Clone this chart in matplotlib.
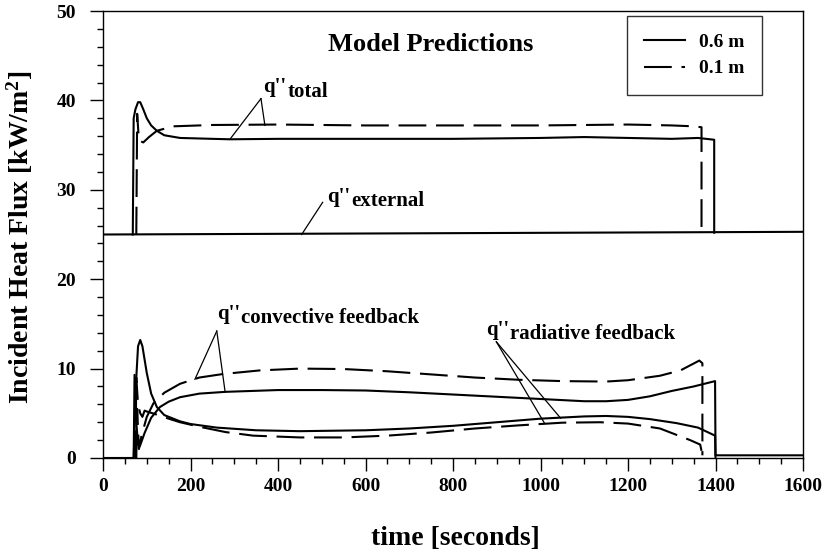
import matplotlib.pyplot as plt
from matplotlib.ticker import MultipleLocator

plt.rcParams['font.family'] = ['Liberation Serif', 'DejaVu Serif']
plt.rcParams['font.weight'] = 'bold'
plt.rcParams['mathtext.fontset'] = 'custom'
plt.rcParams['mathtext.rm'] = 'Liberation Serif:bold'
plt.rcParams['mathtext.default'] = 'rm'
plt.rcParams['lines.scale_dashes'] = False

# values: time [s], flux [kW/m2]
t_ext = [0, 1600]
q_ext = [25.0, 25.3]

t_tot_06 = [68, 70, 74, 80, 85, 92, 100, 110, 123, 140, 176, 250, 290, 400, 600, 800,
            1000, 1100, 1200, 1300, 1360, 1397, 1397]
q_tot_06 = [25.0, 38.0, 39.0, 39.8, 39.8, 39.0, 38.0, 37.2, 36.6, 36.1, 35.8, 35.7, 35.65,
            35.7, 35.7, 35.7, 35.8, 35.9, 35.8, 35.7, 35.8, 35.6, 25.2]

t_tot_01 = [76, 78, 82, 92, 105, 123, 160, 250, 400, 600, 800, 1000, 1200, 1300, 1350,
            1368, 1368]
q_tot_01 = [25.0, 38.5, 35.5, 35.3, 35.9, 36.6, 37.1, 37.25, 37.3, 37.2, 37.2, 37.2, 37.3,
            37.2, 37.1, 37.0, 25.2]

t_conv_06 = [0, 70, 72, 76, 80, 84, 95, 110, 130, 150, 176, 220, 280, 400, 500, 600, 700,
             800, 900, 1000, 1100, 1150, 1200, 1250, 1300, 1350, 1399, 1400, 1600]
q_conv_06 = [0, 0, 9.3, 4.0, 1.5, 1.3, 2.8, 4.5, 5.7, 6.3, 6.8, 7.2, 7.4, 7.6, 7.6, 7.55,
             7.35, 7.1, 6.85, 6.6, 6.35, 6.35, 6.5, 6.9, 7.5, 8.0, 8.6, 0.3, 0.3]

t_conv_01 = [76, 78, 82, 88, 100, 115, 140, 176, 220, 275, 359, 450, 550, 650, 750, 850,
             950, 1050, 1150, 1200, 1273, 1320, 1363, 1370, 1370]
q_conv_01 = [0, 5.5, 1.0, 2.5, 4.6, 6.1, 7.3, 8.3, 9.0, 9.4, 9.8, 10.0, 9.95, 9.7, 9.35,
             9.0, 8.75, 8.6, 8.55, 8.7, 9.2, 9.8, 10.9, 10.6, 0.3]

t_rad_06 = [70, 72, 76, 80, 85, 90, 100, 110, 123, 140, 176, 200, 260, 350, 450, 600, 700,
            800, 900, 1000, 1100, 1150, 1200, 1250, 1311, 1360, 1399, 1400]
q_rad_06 = [0, 3.0, 9.0, 12.5, 13.2, 12.5, 9.5, 7.2, 5.7, 4.8, 4.1, 3.8, 3.4, 3.1, 3.0,
            3.1, 3.3, 3.6, 4.0, 4.4, 4.65, 4.7, 4.6, 4.35, 3.9, 3.4, 2.5, 0]

t_rad_01 = [74, 76, 80, 85, 90, 95, 100, 120, 150, 176, 220, 280, 343, 450, 550, 650, 750,
            850, 950, 1050, 1136, 1200, 1273, 1342, 1365, 1368]
q_rad_01 = [0, 9.0, 6.0, 5.0, 4.6, 5.3, 5.2, 4.9, 4.4, 4.0, 3.5, 2.9, 2.5, 2.3, 2.3, 2.5,
            2.85, 3.3, 3.65, 3.95, 4.0, 3.85, 3.3, 2.0, 1.5, 0.8]

fig = plt.figure(figsize=(8.33, 5.53), dpi=100)
ax = fig.add_axes([0.1237, 0.1718, 0.8403, 0.8083])

dash = (0, (20, 7))
lw = 1.5
ax.plot(t_ext, q_ext, color='black', lw=lw)
ax.plot(t_tot_06, q_tot_06, color='black', lw=lw, label='0.6 m')
ax.plot(t_tot_01, q_tot_01, color='black', lw=lw, ls=dash, label='0.1 m')
ax.plot(t_conv_06, q_conv_06, color='black', lw=lw)
ax.plot(t_conv_01, q_conv_01, color='black', lw=lw, ls=dash)
ax.plot(t_rad_06, q_rad_06, color='black', lw=lw)
ax.plot(t_rad_01, q_rad_01, color='black', lw=lw, ls=dash)

# labels with leader lines
def label(q_xy, sub, apex, ends):
    qt = ax.text(q_xy[0], q_xy[1], "q''", fontsize=15, fontweight='bold')
    ax.annotate(sub, xy=(1, 0), xycoords=qt, xytext=(1, -3), textcoords='offset points',
                va='bottom', ha='left', fontsize=15, fontweight='bold')
    for e in ends:
        ax.plot([apex[0], e[0]], [apex[1], e[1]], color='black', lw=0.9)

label((365, 40.9), 'total', (361, 40.2), [(290, 35.65), (370, 37.2)])
label((512, 28.6), 'external', (502, 28.6), [(454, 25.0)])
label((260, 15.6), 'convective feedback', (260, 14.2), [(210, 8.8), (279, 7.4)])
label((875, 13.8), 'radiative feedback', (899, 13.0), [(1009, 3.9), (1046, 4.45)])

ax.text(0.468, 0.925, 'Model Predictions', transform=ax.transAxes, fontsize=19,
        fontweight='bold', ha='center', va='center')

ax.set_xlim(0, 1600)
ax.set_ylim(0, 50)
ax.xaxis.set_major_locator(MultipleLocator(200))
ax.xaxis.set_minor_locator(MultipleLocator(50))
ax.yaxis.set_major_locator(MultipleLocator(10))
ax.yaxis.set_minor_locator(MultipleLocator(2))
ax.tick_params(which='both', direction='out', top=False, right=False, width=1)
ax.tick_params(which='major', length=9.5, labelsize=14)
ax.tick_params(axis='y', which='major', pad=10)
ax.tick_params(axis='x', which='major', pad=5)
ax.tick_params(which='minor', length=4)
for sp in ax.spines.values():
    sp.set_linewidth(1.0)

ax.set_xlabel('time [seconds]', fontsize=20, fontweight='bold')
ax.set_ylabel('Incident Heat Flux [kW/m$^{2}$]', fontsize=20, fontweight='bold')
ax.xaxis.set_label_coords(0.504, -0.153)
ax.yaxis.set_label_coords(-0.097, 0.493)

leg = ax.legend(loc='upper right', bbox_to_anchor=(0.941, 0.989), fontsize=14,
                frameon=True, fancybox=False, handlelength=2.1, handletextpad=0.7,
                borderpad=0.9, labelspacing=0.45, borderaxespad=0)
leg.get_frame().set_edgecolor('black')
leg.get_frame().set_linewidth(1.0)

plt.savefig('out.png', dpi=100)
